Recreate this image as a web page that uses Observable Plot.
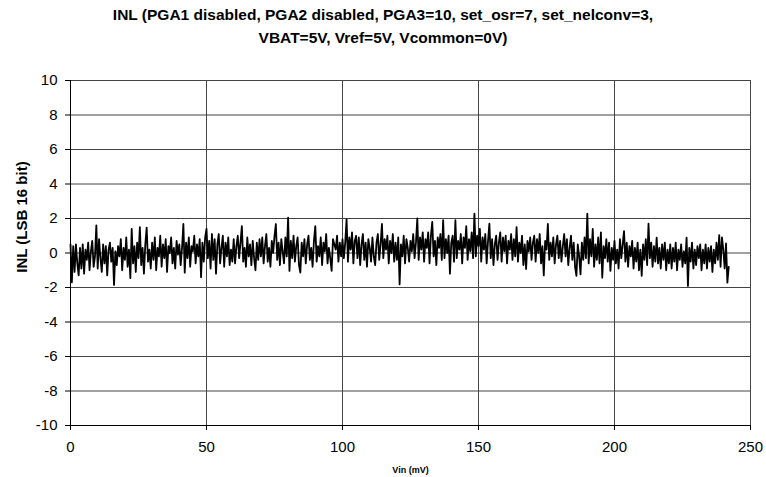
<!DOCTYPE html>
<html><head><meta charset="utf-8">
<script src="https://cdn.jsdelivr.net/npm/d3@7"></script>
<script src="https://cdn.jsdelivr.net/npm/@observablehq/plot@0.6"></script>
<style>
body{margin:0;background:#fff;font-family:"Liberation Sans",Arial,sans-serif;}
#title{width:766px;text-align:center;font-weight:bold;font-size:15.5px;line-height:23px;padding-top:3px;height:56px;box-sizing:border-box;color:#000;}
#chart svg{display:block;}
</style></head><body>
<div id="title">INL (PGA1 disabled, PGA2 disabled, PGA3=10, set_osr=7, set_nelconv=3,<br>VBAT=5V, Vref=5V, Vcommon=0V)</div>
<div id="chart"></div>
<script>
const vinStart = 0;      // mV
const vinStep = 0.5;     // mV per sample
const inl = [
0.5,-1.7,0.4,-1.1,0.5,-0.6,-1.3,0.3,-0.9,0.5,-1.2,0.2,-0.4,0.6,-1.0,0.1,0.7,-0.8,-0.2,1.6,
-0.9,0.8,-0.3,-1.1,0.5,-0.6,0.4,-1.3,0.2,0.6,-0.5,0.3,-1.85,0.1,-0.7,0.4,-0.2,0.8,-1.0,0.3,
-0.4,0.9,-0.8,0.2,-1.45,1.4,-0.6,0.4,-1.1,0.6,-0.3,1.5,-0.7,0.3,-1.2,0.5,1.47,-0.5,0.2,-0.9,
0.6,-0.4,0.9,-1.0,0.3,-0.2,1.0,-0.8,0.5,-0.3,0.8,-1.1,0.4,0.0,0.9,-0.6,0.3,-0.9,0.7,-0.1,
0.5,-0.7,0.3,1.68,-1.14,0.6,-0.3,0.9,-0.8,0.4,0.1,1.0,-0.6,0.5,-0.2,0.8,-1.4,0.6,-0.5,0.9,
1.4,-0.3,0.7,-0.9,1.1,-0.4,0.8,-1.2,0.5,1.1,-0.6,0.3,1.0,-0.8,0.6,-0.2,0.9,-0.7,0.2,-0.5,
0.8,-0.6,0.4,1.0,-0.3,0.6,1.56,-0.5,0.3,-0.8,0.9,-0.2,0.5,-0.7,0.7,-0.3,-1.0,0.6,-0.4,0.8,
-0.2,0.9,-0.6,0.4,1.1,-0.5,0.3,-0.8,0.7,0.0,1.0,1.68,-0.4,0.6,-0.7,0.8,0.1,-0.6,0.9,-0.2,
2.05,-1.04,0.7,-0.3,1.0,-0.5,0.4,0.9,-0.7,-1.14,0.6,-0.2,0.8,-0.6,0.5,1.0,-0.4,0.3,-0.8,0.7,
1.56,-0.5,0.4,-0.2,0.9,-0.7,0.6,0.1,1.1,-0.6,0.3,-0.3,-1.04,0.8,0.5,0.2,1.0,-0.5,0.6,-0.2,
0.8,-0.3,0.6,1.95,-0.5,0.9,0.2,1.2,-0.6,0.7,1.0,-0.3,0.9,-0.7,0.5,1.1,-0.4,0.6,-0.8,0.8,
0.3,-0.5,0.9,-0.2,-0.7,0.6,1.1,-0.4,0.5,1.68,-0.3,0.8,0.2,1.0,-0.6,0.7,0.0,1.1,-0.5,0.6,
-0.4,0.9,-1.82,0.5,-0.2,1.0,-0.6,0.8,0.3,-0.5,0.7,0.1,1.1,-0.3,0.6,2.0,-0.4,0.9,0.2,1.2,
-0.5,0.8,0.3,1.2,-0.6,1.0,1.8,-0.2,0.7,-0.7,0.9,0.3,1.1,-0.4,1.9,-0.3,0.8,0.0,1.0,-1.2,
0.6,1.0,-0.5,1.9,-0.3,0.7,0.2,1.1,-0.6,0.9,0.3,1.56,-0.4,0.8,0.1,1.2,-0.3,2.28,-0.2,1.0,
0.4,1.4,-0.5,0.9,0.2,1.1,-0.6,0.7,1.7,-0.3,0.8,-0.7,0.5,1.0,-0.4,0.6,1.2,-0.5,0.9,0.1,
1.0,-0.6,0.7,0.2,1.1,-0.4,0.8,-0.2,1.5,-0.5,0.6,0.0,1.0,-0.7,0.5,-0.93,0.7,0.1,0.9,-0.4,
0.6,1.0,-0.5,0.8,0.0,1.1,-0.6,0.4,-1.3,0.7,0.2,1.68,-0.4,0.6,-0.2,0.9,-0.6,0.5,1.0,-0.3,
0.7,-0.5,0.4,1.1,-0.2,0.8,-0.7,0.3,1.0,-0.4,0.6,-0.8,-1.33,0.5,-0.2,-1.24,0.6,-0.4,0.9,-0.3,
2.28,-0.6,0.8,-0.2,1.39,-0.8,0.5,-0.4,0.9,-0.6,1.2,-1.43,0.4,-0.3,0.8,-0.5,0.6,-1.04,0.3,-0.4,
0.7,-0.6,0.2,-0.9,0.8,-0.3,0.5,1.27,-0.5,0.6,-0.8,0.4,-0.2,0.7,-0.9,0.3,-0.5,0.6,-1.0,0.2,
-1.33,0.5,-0.4,0.8,-0.7,1.7,-0.3,0.6,-0.8,0.4,-0.5,0.89,-0.6,0.3,-0.9,0.5,-0.4,0.6,-1.0,0.2,
-0.6,0.5,-0.9,0.3,-0.5,0.6,-1.0,0.2,-0.4,0.5,-0.8,0.1,-0.6,0.89,-1.91,0.3,-0.5,0.6,-0.9,0.2,
-0.7,0.4,-0.3,0.5,-1.0,0.2,-0.6,0.5,-0.9,0.3,-0.5,0.4,-1.1,0.2,-0.6,0.6,-0.4,1.04,-0.8,0.9,
0.2,-0.9,0.55,-1.72,-0.8
];
const xTicks = [0, 50, 100, 150, 200, 250];
const yTicks = [-10, -8, -6, -4, -2, 0, 2, 4, 6, 8, 10];
const xLabel = "Vin (mV)";
const yLabel = "INL (LSB 16 bit)";

const data = inl.map((v, i) => ({vin: vinStart + i * vinStep, inl: v}));
const fmt = d => String(d);

const chart = Plot.plot({
  width: 766, height: 421,
  marginTop: 24, marginLeft: 70, marginRight: 16, marginBottom: 52,
  x: {domain: [0, 250], ticks: xTicks, label: null},
  y: {domain: [-10, 10], ticks: yTicks, label: null},
  style: {fontFamily: "'Liberation Sans', Arial, sans-serif", fontSize: "15px", color: "#000", background: "#fff"},
  marks: [
    Plot.gridX(xTicks, {stroke: "#444", strokeOpacity: 1}),
    Plot.gridY(yTicks, {stroke: "#444", strokeOpacity: 1}),
    Plot.axisY(yTicks, {tickSize: 5, tickPadding: 8, fontSize: 15, label: null, tickFormat: fmt}),
    Plot.axisX(xTicks, {tickSize: 5, tickPadding: 11, fontSize: 15, label: null, tickFormat: fmt}),
    Plot.ruleX([0], {stroke: "#000"}),
    Plot.ruleY([-10], {stroke: "#000"}),
    Plot.line(data, {x: "vin", y: "inl", stroke: "#000", strokeWidth: 1.8}),
    Plot.text([xLabel], {frameAnchor: "bottom", dy: 47, fontWeight: "bold", fontSize: 9}),
    Plot.text([yLabel], {frameAnchor: "left", textAnchor: "middle", dx: -48, dy: -36, rotate: -90, fontWeight: "bold", fontSize: 15})
  ]
});
document.getElementById("chart").appendChild(chart);
</script>
</body></html>
